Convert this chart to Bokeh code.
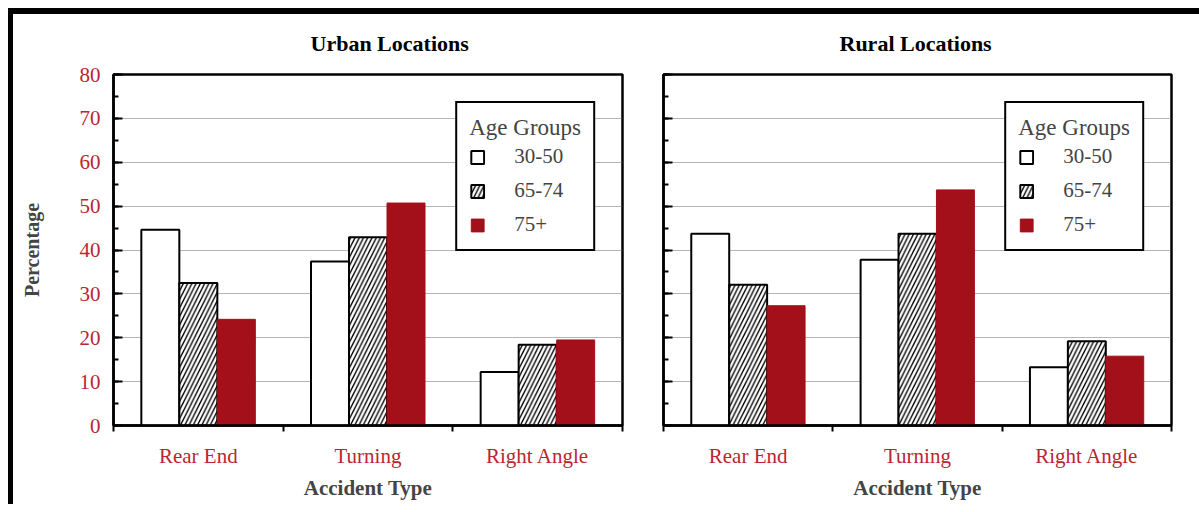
from bokeh.plotting import figure
from bokeh.models import (Range1d, FixedTicker, SingleIntervalTicker, Legend, LegendItem,
                          ColumnDataSource, Spacer)
from bokeh.layouts import row, column
from bokeh.transform import dodge
from bokeh.embed import file_html
from bokeh.resources import INLINE

# ---------------- data ----------------
categories = ["Rear End", "Turning", "Right Angle"]
age_groups = ["30-50", "65-74", "75+"]

urban_30_50 = [44.6, 37.4, 12.2]
urban_65_74 = [32.5, 42.9, 18.4]
urban_75_plus = [24.2, 50.7, 19.5]

rural_30_50 = [43.7, 37.8, 13.3]
rural_65_74 = [32.1, 43.7, 19.2]
rural_75_plus = [27.3, 53.7, 15.8]

y_ticks = [0, 10, 20, 30, 40, 50, 60, 70, 80]

# ---------------- style ----------------
SERIF = "Liberation Serif"
RED_BAR = "#a3101a"
RED_TEXT = "#bb2530"
BAR_W = 0.224
FIG_H = 490
MB_TOP = 60
MB_BOTTOM = 79


def make_panel(title, v1, v2, v3, width, mb_left, mb_right, title_offset, show_ylabels):
    p = figure(width=width, height=FIG_H, output_backend="svg", toolbar_location=None,
               x_range=Range1d(0, len(categories)), y_range=Range1d(0, 80),
               min_border_left=mb_left, min_border_right=mb_right,
               min_border_top=MB_TOP, min_border_bottom=MB_BOTTOM)
    p.background_fill_color = "white"
    p.border_fill_color = "white"
    p.outline_line_color = "black"
    p.outline_line_width = 2.5

    p.title.text = title
    p.title.align = "left"
    p.title.offset = title_offset
    p.title.vertical_align = "top"
    p.title.standoff = 33
    p.title.text_font = SERIF
    p.title.text_font_size = "22px"
    p.title.text_font_style = "bold"
    p.title.text_color = "black"

    src = ColumnDataSource(dict(
        x=[i + 0.5 for i in range(len(categories))],
        a=v1, b=v2, c=v3))

    r1 = p.vbar(x=dodge("x", -BAR_W, range=p.x_range), top="a", width=BAR_W, source=src,
                fill_color="white", line_color="black", line_width=2)
    r2 = p.vbar(x="x", top="b", width=BAR_W, source=src,
                fill_color="white", line_color="black", line_width=2,
                hatch_pattern="/", hatch_color="black", hatch_weight=1.4, hatch_scale=8.5)
    r3 = p.vbar(x=dodge("x", BAR_W, range=p.x_range), top="c", width=BAR_W, source=src,
                fill_color=RED_BAR, line_color=RED_BAR, line_width=1)

    # x axis: labels at category centers, tick marks at boundaries
    xa = p.xaxis[0]
    xa.ticker = FixedTicker(ticks=[i + 0.5 for i in range(len(categories))],
                            minor_ticks=list(range(len(categories) + 1)))
    xa.major_label_overrides = {i + 0.5: c for i, c in enumerate(categories)}
    xa.major_tick_in = 0
    xa.major_tick_out = 0
    xa.minor_tick_in = 0
    xa.minor_tick_out = 6
    xa.minor_tick_line_color = "black"
    xa.minor_tick_line_width = 2
    xa.axis_line_width = 2.5
    xa.axis_line_color = "black"
    xa.major_label_text_font = SERIF
    xa.major_label_text_font_size = "21px"
    xa.major_label_text_color = RED_TEXT
    xa.major_label_standoff = 12
    xa.axis_label = "Accident Type"
    xa.axis_label_text_font = SERIF
    xa.axis_label_text_font_size = "21px"
    xa.axis_label_text_font_style = "bold"
    xa.axis_label_standoff = 5

    ya = p.yaxis[0]
    ya.ticker = SingleIntervalTicker(interval=10, num_minor_ticks=2)
    ya.major_tick_in = 9
    ya.major_tick_out = 0
    ya.minor_tick_in = 5
    ya.minor_tick_out = 0
    ya.major_tick_line_width = 2
    ya.minor_tick_line_width = 2
    ya.axis_line_width = 2.5
    ya.axis_line_color = "black"
    if show_ylabels:
        ya.major_label_text_font = SERIF
        ya.major_label_text_font_size = "21px"
        ya.major_label_text_color = RED_TEXT
        ya.major_label_standoff = 13
        ya.axis_label = "Percentage"
        ya.axis_label_text_font = SERIF
        ya.axis_label_text_font_size = "20px"
        ya.axis_label_text_font_style = "bold"
        ya.axis_label_standoff = 34
    else:
        ya.major_label_overrides = {t: "" for t in y_ticks}
        ya.major_label_text_font_size = "1px"
        ya.major_label_standoff = 0

    p.xgrid.visible = False
    p.ygrid.ticker = SingleIntervalTicker(interval=10)
    p.ygrid.grid_line_color = "#6a6a6a"
    p.ygrid.grid_line_dash = "1 1"
    p.ygrid.grid_line_width = 1

    legend = Legend(items=[LegendItem(label=age_groups[0], renderers=[r1]),
                           LegendItem(label=age_groups[1], renderers=[r2]),
                           LegendItem(label=age_groups[2], renderers=[r3])],
                    title="Age Groups", location="top_right")
    legend.margin = 27
    legend.padding = 12
    legend.spacing = 9
    legend.border_line_color = "black"
    legend.border_line_width = 2
    legend.border_line_alpha = 1
    legend.background_fill_color = "white"
    legend.background_fill_alpha = 1
    legend.title_text_font = SERIF
    legend.title_text_font_size = "23px"
    legend.title_text_font_style = "normal"
    legend.title_standoff = 3
    legend.label_text_font = SERIF
    legend.label_text_font_size = "21px"
    legend.label_standoff = 29
    legend.label_height = 20
    legend.glyph_width = 16
    legend.glyph_height = 16
    p.add_layout(legend)
    return p


p1 = make_panel("Urban Locations", urban_30_50, urban_65_74, urban_75_plus,
                width=629, mb_left=100, mb_right=20, title_offset=197, show_ylabels=True)
p2 = make_panel("Rural Locations", rural_30_50, rural_65_74, rural_75_plus,
                width=557, mb_left=21, mb_right=28, title_offset=176, show_ylabels=False)

top_bar = Spacer(width=1191, height=6, background="black")
left_bar = Spacer(width=5, height=FIG_H, background="black")
framed = column(top_bar, row(left_bar, p1, p2, spacing=0), spacing=0)
layout = column(Spacer(width=1199, height=8),
                row(Spacer(width=8, height=FIG_H + 6), framed, spacing=0),
                spacing=0)

open("out.html", "w").write(file_html(layout, INLINE))
